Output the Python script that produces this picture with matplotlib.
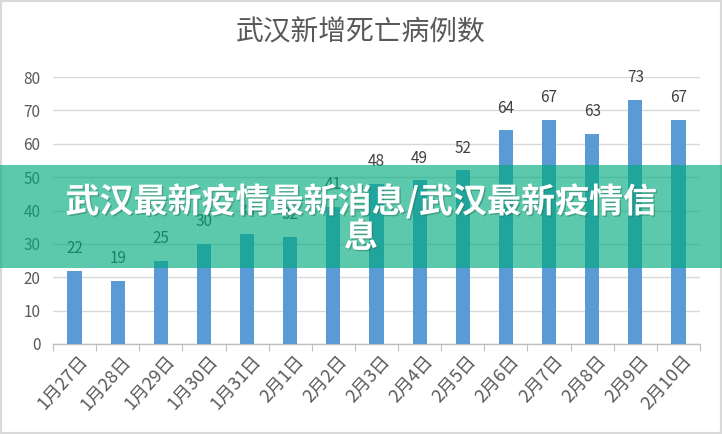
import matplotlib
matplotlib.use("Agg")
import matplotlib.pyplot as plt
from matplotlib.patches import Rectangle
import matplotlib.patheffects as pe

plt.rcParams['font.family'] = ['Noto Sans CJK SC', 'DejaVu Sans']

categories = ["1月27日", "1月28日", "1月29日", "1月30日", "1月31日", "2月1日", "2月2日",
              "2月3日", "2月4日", "2月5日", "2月6日", "2月7日", "2月8日", "2月9日", "2月10日"]
values = [22, 19, 25, 30, 33, 32, 41, 48, 49, 52, 64, 67, 63, 73, 67]
yticks = [0, 10, 20, 30, 40, 50, 60, 70, 80]
title = "武汉新增死亡病例数"
banner_text = "武汉最新疫情最新消息/武汉最新疫情信\n息"

W, H = 722, 434
fig = plt.figure(figsize=(W / 100, H / 100), dpi=100)
ax = fig.add_axes([53 / W, 1 - 344 / H, 647 / W, 267 / H])

x = list(range(len(categories)))
ax.bar(x, values, width=0.33, color="#5B9BD5", zorder=3)
for xi, v in zip(x, values):
    ax.annotate(str(v), xy=(xi, v), xytext=(0, 10), textcoords="offset points",
                ha="center", va="bottom", fontsize=11, color="#404040", zorder=4)

ax.set_xlim(-0.5, len(categories) - 0.5)
ax.set_ylim(0, 80)
ax.set_yticks(yticks)
ax.set_yticklabels([str(t) for t in yticks], fontsize=11, color="#595959")
ax.yaxis.grid(True, color="#D9D9D9", linewidth=1, zorder=0)
ax.tick_params(axis="y", length=0, pad=9)
for s in ["top", "right", "left"]:
    ax.spines[s].set_visible(False)
ax.spines["bottom"].set_color("#BFBFBF")
ax.spines["bottom"].set_linewidth(1)

ax.set_xticks([i - 0.5 for i in range(len(categories) + 1)], minor=False)
ax.set_xticklabels([])
ax.tick_params(axis="x", length=5, color="#BFBFBF", direction="out")
for xi, c in zip(x, categories):
    ax.annotate(c, xy=(xi, 0), xycoords=("data", "axes fraction"),
                xytext=(3, -6), textcoords="offset points",
                rotation=48, ha="right", va="top", rotation_mode="anchor",
                fontsize=13, color="#595959")

fig.text(0.5, 1 - 33 / H, title, ha="center", va="center", fontsize=20, color="#595959")

# border
fig.patches.append(Rectangle((0, 0), 1, 1, transform=fig.transFigure, fill=False,
                             edgecolor="#D9D9D9", linewidth=3))

# banner overlay
fig.patches.append(Rectangle((0, 1 - 268 / H), 1, 103 / H, transform=fig.transFigure,
                             facecolor=(0.0, 0.67, 0.49), alpha=0.64, edgecolor="none", zorder=10))
fig.text(0.5, 1 - 219 / H, banner_text, ha="center", va="center", fontsize=24.5,
         fontweight="bold", color="white", linespacing=1.0, zorder=11,
         path_effects=[pe.withSimplePatchShadow(offset=(1, -1), shadow_rgbFace="#2a7a60", alpha=0.5)])

fig.savefig("out.png", dpi=100)
